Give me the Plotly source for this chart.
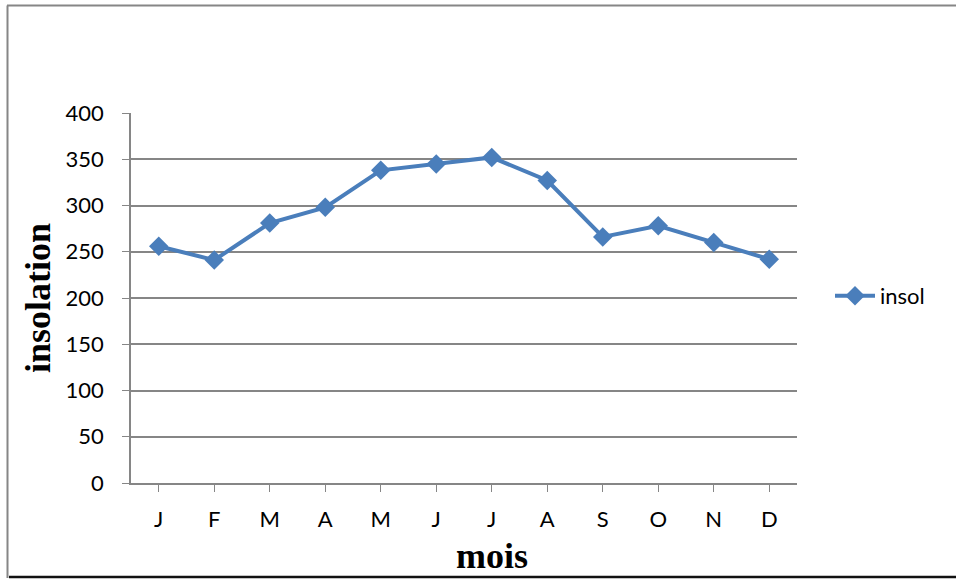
import plotly.graph_objects as go

# Monthly insolation series
months = ["J", "F", "M", "A", "M", "J", "J", "A", "S", "O", "N", "D"]
insol = [256, 241, 281, 298, 338, 345, 352, 327, 266, 278, 260, 242]
y_ticks = [0, 50, 100, 150, 200, 250, 300, 350, 400]
series_name = "insol"

W, H = 956, 579
L, R, T, B = 131, 159, 113, 96
pw, ph = W - L - R, H - T - B

x_idx = list(range(len(months)))

fig = go.Figure()
fig.add_trace(go.Scatter(
    x=x_idx, y=insol, name=series_name, mode="lines+markers",
    line=dict(color="#4A7EBB", width=4),
    marker=dict(symbol="diamond", size=15, color="#4A7EBB"),
    showlegend=True,
))

tick_font = dict(family="Lato, Open Sans, sans-serif", size=22, color="#000000")

fig.update_xaxes(
    range=[-0.5, len(months) - 0.5],
    tickmode="array", tickvals=x_idx, ticktext=months,
    tickson="boundaries", ticks="outside", ticklen=7, tickcolor="#868686",
    showline=True, linecolor="#868686", linewidth=1.5,
    showgrid=False, zeroline=False,
    tickfont=tick_font, ticklabelstandoff=9,
)
fig.update_yaxes(
    range=[0, 400],
    tickmode="array", tickvals=y_ticks,
    ticks="outside", ticklen=7, tickcolor="#868686",
    showline=True, linecolor="#868686", linewidth=1.5,
    showgrid=True, gridcolor="#868686", gridwidth=1.5,
    zeroline=False, tickfont=tick_font, ticklabelstandoff=14,
)


def px_x(p):
    return (p - L) / pw


def px_y(p):
    return (H - B - p) / ph


title_font = dict(family="Liberation Serif, Times New Roman, serif", size=36, color="#000000")

annotations = [
    dict(text="<b>insolation</b>", x=px_x(38), y=px_y(298), xref="paper", yref="paper",
         textangle=-90, showarrow=False, font=title_font, xanchor="center", yanchor="middle"),
    dict(text="<b>mois</b>", x=px_x(492), y=px_y(556), xref="paper", yref="paper",
         showarrow=False, font=title_font, xanchor="center", yanchor="middle"),
]

# Outer frame: grey left/top edges, dark bottom edge
shapes = [
    dict(type="line", xref="paper", yref="paper", x0=px_x(7.5), x1=px_x(7.5),
         y0=px_y(5.5), y1=px_y(578), line=dict(color="#868686", width=2)),
    dict(type="line", xref="paper", yref="paper", x0=px_x(7), x1=px_x(956),
         y0=px_y(5.5), y1=px_y(5.5), line=dict(color="#868686", width=2)),
    dict(type="line", xref="paper", yref="paper", x0=px_x(9), x1=px_x(956),
         y0=px_y(577), y1=px_y(577), line=dict(color="#111111", width=2.5)),
]

fig.update_layout(
    width=W, height=H,
    margin=dict(l=L, r=R, t=T, b=B, pad=0),
    paper_bgcolor="white", plot_bgcolor="white",
    showlegend=True,
    legend=dict(x=px_x(830), y=px_y(296), xanchor="left", yanchor="middle",
                font=dict(family="Lato, Open Sans, sans-serif", size=22, color="#000000"),
                bgcolor="rgba(0,0,0,0)", itemwidth=40, tracegroupgap=0),
    annotations=annotations,
    shapes=shapes,
)

fig.write_html("out.html")
